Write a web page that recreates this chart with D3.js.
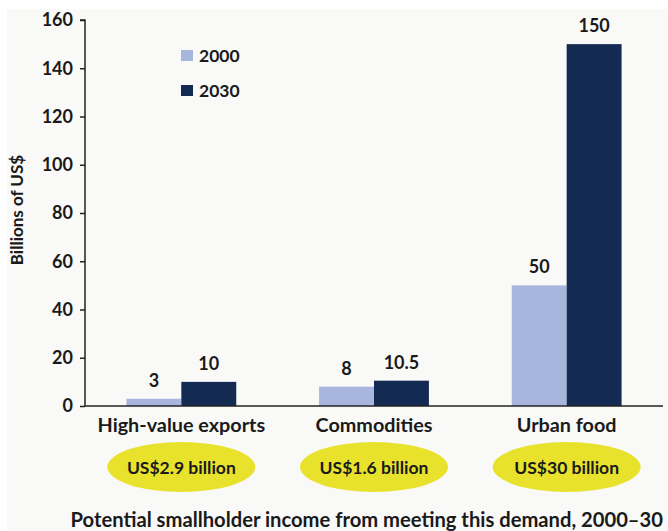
<!DOCTYPE html>
<html>
<head>
<meta charset="utf-8">
<script src="https://cdn.jsdelivr.net/npm/d3@7"></script>
<style>
  html, body { margin: 0; padding: 0; background: #ffffff; }
  svg { display: block; }
  text { font-family: Lato, "Open Sans", sans-serif; fill: #1a1a1a; }
</style>
</head>
<body>
<svg id="chart" width="668" height="531"></svg>
<script>
// Demand categories and values (billions of US$)
const categories = ["High-value exports", "Commodities", "Urban food"];
const series = ["2000", "2030"];
const values2000 = [3, 8, 50];
const values2030 = [10, 10.5, 150];
const valueLabels2000 = ["3", "8", "50"];
const valueLabels2030 = ["10", "10.5", "150"];
const incomeLabels = ["US$2.9 billion", "US$1.6 billion", "US$30 billion"];
const yTicks = [0, 20, 40, 60, 80, 100, 120, 140, 160];

const colors = { "2000": "#a7b6dc", "2030": "#132a52" };
const FONT = 'Lato, "Open Sans", sans-serif';

const svg = d3.select("#chart");

// soft panel background
svg.append("rect").attr("x", 7).attr("y", 9).attr("width", 661).attr("height", 522)
  .attr("fill", "#f9f9f8");

const x0 = 85, x1 = 663, yTop = 20, yBottom = 406;

const x = d3.scaleBand().domain(categories).range([x0, x1])
  .paddingInner(0.43).paddingOuter(0.215);
const xs = d3.scaleBand().domain(series).range([0, x.bandwidth()]);
const y = d3.scaleLinear().domain([0, 160]).range([yBottom, yTop]);

const rows = categories.map((c, i) => ({
  cat: c,
  vals: [
    { s: "2000", v: values2000[i], label: valueLabels2000[i] },
    { s: "2030", v: values2030[i], label: valueLabels2030[i] }
  ]
}));

// bars
const g = svg.append("g");
const grp = g.selectAll("g.cat").data(rows).join("g")
  .attr("class", "cat")
  .attr("transform", d => `translate(${x(d.cat)},0)`);

grp.selectAll("rect").data(d => d.vals).join("rect")
  .attr("x", d => xs(d.s))
  .attr("y", d => y(d.v))
  .attr("width", xs.bandwidth())
  .attr("height", d => y(0) - y(d.v))
  .attr("fill", d => colors[d.s]);

// value labels above bars
grp.selectAll("text.val").data(d => d.vals).join("text")
  .attr("class", "val")
  .attr("x", d => xs(d.s) + xs.bandwidth() / 2)
  .attr("y", d => y(d.v) - 12)
  .attr("text-anchor", "middle")
  .attr("font-size", 18)
  .attr("font-weight", "bold")
  .text(d => d.label);

// y axis
const yAxis = d3.axisLeft(y).tickValues(yTicks).tickSize(5).tickPadding(7);
const ya = svg.append("g").attr("transform", `translate(${x0},0)`).call(yAxis);
ya.attr("font-family", FONT).attr("font-size", 18);
ya.select(".domain").attr("stroke", "#222").attr("stroke-width", 1.5)
  .attr("d", `M-5,${yTop}H0V${yBottom}`);
ya.selectAll(".tick line").attr("stroke", "#222").attr("stroke-width", 1.5);
ya.selectAll(".tick text").attr("font-weight", "bold").attr("fill", "#1a1a1a");

// x axis baseline
const xAxis = d3.axisBottom(x).tickSize(0).tickPadding(12);
const xa = svg.append("g").attr("transform", `translate(0,${yBottom})`).call(xAxis);
xa.attr("font-family", FONT).attr("font-size", 19.8);
xa.select(".domain").attr("stroke", "#222").attr("stroke-width", 1.5)
  .attr("d", `M${x0},0H${x1}`);
xa.selectAll(".tick text").attr("font-weight", "bold").attr("fill", "#1a1a1a");

// y axis title
svg.append("text")
  .attr("transform", "translate(23,210) rotate(-90)")
  .attr("text-anchor", "middle")
  .attr("font-size", 17)
  .attr("font-weight", "bold")
  .text("Billions of US$");

// legend
const legend = svg.append("g");
series.forEach((s, i) => {
  const ly = 50 + i * 35;
  legend.append("rect").attr("x", 181).attr("y", ly).attr("width", 12).attr("height", 11)
    .attr("fill", colors[s]);
  legend.append("text").attr("x", 199).attr("y", ly + 12)
    .attr("font-size", 17.5).attr("font-weight", "bold").text(s);
});

// income ellipses
const inc = svg.append("g");
categories.forEach((c, i) => {
  const cx = x(c) + x.bandwidth() / 2;
  inc.append("ellipse").attr("cx", cx).attr("cy", 467).attr("rx", 74).attr("ry", 25)
    .attr("fill", "#e8e22c");
  inc.append("text").attr("x", cx).attr("y", 473.5).attr("text-anchor", "middle")
    .attr("font-size", 17.5).attr("font-weight", "bold").text(incomeLabels[i]);
});

// footer caption
svg.append("text").attr("x", 663).attr("y", 527).attr("text-anchor", "end")
  .attr("font-size", 20.2).attr("font-weight", "bold")
  .text("Potential smallholder income from meeting this demand, 2000–30");
</script>
</body>
</html>
